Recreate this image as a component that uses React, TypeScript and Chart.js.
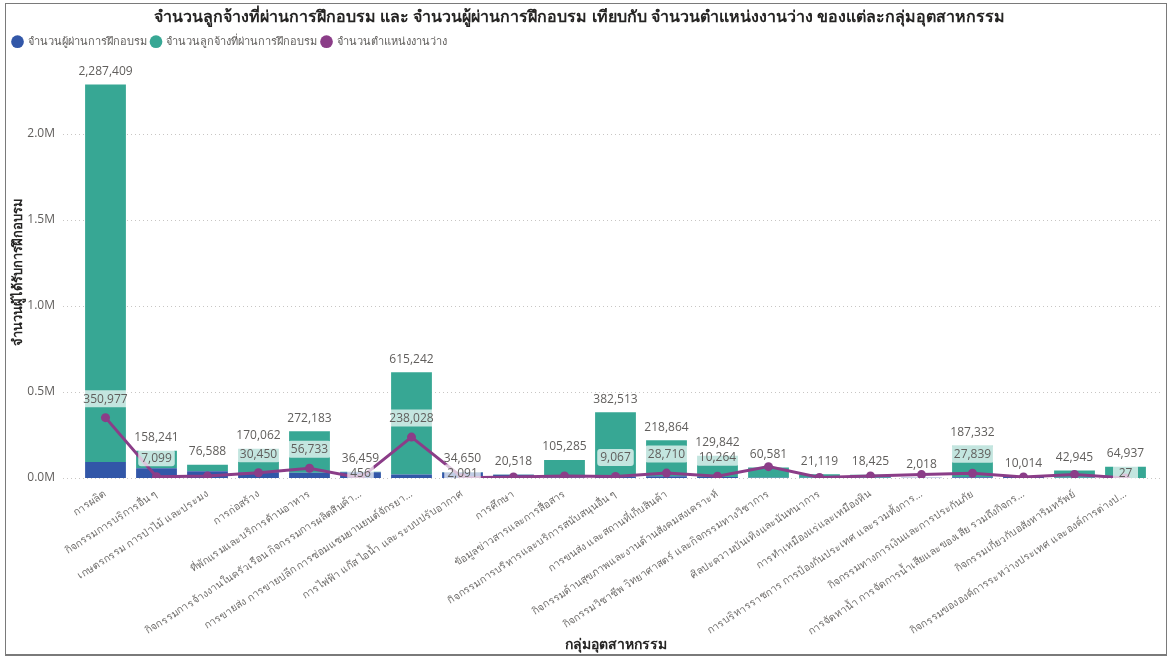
import React, { useEffect, useRef } from 'react';
import { Chart, registerables } from 'chart.js';

Chart.register(...registerables);

const categories = [
  'การผลิต',
  'กิจกรรมการบริการอื่น ๆ',
  'เกษตรกรรม การป่าไม้ และประมง',
  'การก่อสร้าง',
  'ที่พักแรมและบริการด้านอาหาร',
  'กิจกรรมการจ้างงานในครัวเรือน กิจกรรมการผลิตสินค้า...',
  'การขายส่ง การขายปลีก การซ่อมแซมยานยนต์จักรยา...',
  'การไฟฟ้า แก๊ส ไอน้ำ และระบบปรับอากาศ',
  'การศึกษา',
  'ข้อมูลข่าวสารและการสื่อสาร',
  'กิจกรรมการบริหารและบริการสนับสนุนอื่น ๆ',
  'การขนส่ง และสถานที่เก็บสินค้า',
  'กิจกรรมด้านสุขภาพและงานด้านสังคมสงเคราะห์',
  'กิจกรรมวิชาชีพ วิทยาศาสตร์ และกิจกรรมทางวิชาการ',
  'ศิลปะความบันเทิงและนันทนาการ',
  'การทำเหมืองแร่และเหมืองหิน',
  'การบริหารราชการ การป้องกันประเทศ และรวมทั้งการ...',
  'กิจกรรมทางการเงินและการประกันภัย',
  'การจัดหาน้ำ การจัดการน้ำเสียและของเสีย รวมถึงกิจกร...',
  'กิจกรรมเกี่ยวกับอสังหาริมทรัพย์',
  'กิจกรรมขององค์การระหว่างประเทศ และองค์การต่างป...',
];

// จำนวนผู้ผ่านการฝึกอบรม (blue, bottom of stack)
const trainedPersons = [
  93000, 56000, 39000, 33000, 31000, 34000, 21000, 32000, 19000, 3000, 8000,
  10000, 6000, 2000, 2000, 1500, 1500, 4000, 6000, 2000, 500,
];

// จำนวนลูกจ้างที่ผ่านการฝึกอบรม (teal, top of stack)
const trainedEmployees = [
  2194409, 102241, 37588, 137062, 241183, 2459, 594242, 2650, 1518, 102285,
  374513, 208864, 123842, 58581, 19119, 16925, 518, 183332, 4014, 40945, 64437,
];

// จำนวนตำแหน่งงานว่าง (purple line)
const vacancies = [
  350977, 7099, 11000, 30450, 56733, 456, 238028, 2091, 6000, 12000, 9067,
  28710, 10264, 66000, 3000, 12000, 20000, 27839, 6000, 21000, 27,
];

// which vacancy labels are shown and where
const vacancyLabelPlacement = [
  'above', 'above', null, 'above', 'above', 'low', 'above', 'low', null, null,
  'above', 'above', 'above', null, null, null, null, 'above', null, null, 'low',
];

const yTickValues = [0, 500000, 1000000, 1500000, 2000000];

const FONT = "'Segoe UI', 'Open Sans', 'Noto Sans', sans-serif";
const BLUE = '#3257A8';
const TEAL = '#37A794';
const PURPLE = '#8B3D88';
const LABEL_GRAY = '#605E5C';

const fmt = (v: number) => v.toLocaleString('en-US');

const gridPlugin = {
  id: 'extendedGrid',
  beforeDatasetsDraw(chart: any) {
    const { ctx, chartArea, scales } = chart;
    const y = scales.y;
    ctx.save();
    ctx.strokeStyle = '#C8C6C4';
    ctx.lineWidth = 1;
    ctx.setLineDash([1, 3]);
    yTickValues.forEach((v) => {
      const py = Math.round(y.getPixelForValue(v)) + 0.5;
      ctx.beginPath();
      ctx.moveTo(chartArea.left - 17, py);
      ctx.lineTo(chartArea.right + 12, py);
      ctx.stroke();
    });
    ctx.restore();
  },
};

const labelsPlugin = {
  id: 'dataLabels',
  afterDatasetsDraw(chart: any) {
    const ctx = chart.ctx;
    const topMeta = chart.getDatasetMeta(1);
    const lineMeta = chart.getDatasetMeta(2);
    ctx.save();
    ctx.font = `12px ${FONT}`;
    ctx.textAlign = 'center';
    ctx.textBaseline = 'middle';
    categories.forEach((_, i) => {
      const bar = topMeta.data[i];
      const total = trainedPersons[i] + trainedEmployees[i];
      ctx.fillStyle = LABEL_GRAY;
      ctx.fillText(fmt(total), bar.x, bar.y - 13);
    });
    categories.forEach((_, i) => {
      const place = vacancyLabelPlacement[i];
      if (!place) return;
      const pt = lineMeta.data[i];
      const cy = place === 'above' ? pt.y - 19 : pt.y - 5;
      const text = fmt(vacancies[i]);
      const w = Math.max(ctx.measureText(text).width + 6, 25);
      const h = 17;
      ctx.fillStyle = 'rgba(255,255,255,0.7)';
      ctx.beginPath();
      ctx.roundRect(pt.x - w / 2, cy - h / 2, w, h, 3);
      ctx.fill();
      ctx.fillStyle = LABEL_GRAY;
      ctx.fillText(text, pt.x, cy + 0.5);
    });
    ctx.restore();
  },
};

const legendSpacer = {
  id: 'legendSpacer',
  beforeInit(chart: any) {
    const legend = chart.legend;
    if (!legend) return;
    const fit = legend.fit;
    legend.fit = function () {
      fit.call(this);
      this.height += 8;
    };
  },
};

export default function App() {
  const canvasRef = useRef<HTMLCanvasElement | null>(null);

  useEffect(() => {
    document.body.style.margin = '0';
    const canvas = canvasRef.current;
    if (!canvas) return;
    const chart = new Chart(canvas, {
      type: 'bar',
      data: {
        labels: categories,
        datasets: [
          {
            type: 'bar',
            label: 'จำนวนผู้ผ่านการฝึกอบรม',
            data: trainedPersons,
            backgroundColor: BLUE,
            borderWidth: 0,
            stack: 's',
            order: 1,
            barPercentage: 0.8,
            categoryPercentage: 1,
          },
          {
            type: 'bar',
            label: 'จำนวนลูกจ้างที่ผ่านการฝึกอบรม',
            data: trainedEmployees,
            backgroundColor: TEAL,
            borderWidth: 0,
            stack: 's',
            order: 1,
            barPercentage: 0.8,
            categoryPercentage: 1,
          },
          {
            type: 'line',
            label: 'จำนวนตำแหน่งงานว่าง',
            data: vacancies,
            borderColor: PURPLE,
            backgroundColor: PURPLE,
            borderWidth: 3,
            pointRadius: 4.5,
            pointBackgroundColor: PURPLE,
            pointBorderWidth: 0,
            tension: 0,
            order: 0,
          } as any,
        ],
      },
      options: {
        responsive: false,
        animation: false,
        devicePixelRatio: 1,
        layout: { padding: { left: 8, right: 20, top: 4, bottom: 6 } },
        plugins: {
          title: {
            display: true,
            text: 'จำนวนลูกจ้างที่ผ่านการฝึกอบรม และ จำนวนผู้ผ่านการฝึกอบรม เทียบกับ จำนวนตำแหน่งงานว่าง ของแต่ละกลุ่มอุตสาหกรรม',
            color: '#252423',
            font: { family: FONT, size: 16, weight: 'bold' },
            padding: { top: 4, bottom: 4 },
          },
          legend: {
            display: true,
            position: 'top',
            align: 'start',
            labels: {
              usePointStyle: true,
              pointStyle: 'circle',
              boxWidth: 9,
              boxHeight: 9,
              padding: 5,
              color: LABEL_GRAY,
              font: { family: FONT, size: 11 },
              sort: (a: any, b: any) => a.datasetIndex - b.datasetIndex,
            },
          },
          tooltip: { enabled: false },
        },
        scales: {
          x: {
            stacked: true,
            grid: { display: false },
            border: { display: false },
            ticks: {
              autoSkip: false,
              maxRotation: 33,
              minRotation: 33,
              color: '#6f6d6b',
              font: { family: FONT, size: 10.3 },
              padding: 2,
            },
            title: {
              display: true,
              text: 'กลุ่มอุตสาหกรรม',
              color: '#252423',
              font: { family: FONT, size: 14, weight: 'bold' },
              padding: { top: 0, bottom: 0 },
            },
            afterFit: (s: any) => {
              s.height = 659 - 478 - 6;
            },
          },
          y: {
            stacked: true,
            min: 0,
            max: 2400000,
            afterBuildTicks: (s: any) => {
              s.ticks = yTickValues.map((v) => ({ value: v }));
            },
            grid: { display: false },
            border: { display: false },
            ticks: {
              color: LABEL_GRAY,
              font: { family: FONT, size: 12 },
              padding: 17,
              callback: (v: any) => (Number(v) / 1e6).toFixed(1) + 'M',
            },
            title: {
              display: true,
              text: 'จำนวนผู้ได้รับการฝึกอบรม',
              color: '#252423',
              font: { family: FONT, size: 13, weight: 'bold' },
              padding: { top: 2, bottom: 0 },
            },
            afterFit: (s: any) => {
              s.width = 72;
            },
          },
        },
      },
      plugins: [gridPlugin, labelsPlugin, legendSpacer],
    });
    return () => chart.destroy();
  }, []);

  return (
    <div style={{ position: 'fixed', left: 0, top: 0, width: 1171, height: 659, background: '#fff' }}>
      <canvas ref={canvasRef} width={1171} height={659} style={{ width: 1171, height: 659, display: 'block' }} />
      <div
        style={{
          position: 'absolute',
          left: 5,
          top: 3,
          width: 1162,
          height: 653,
          border: '1px solid #7a7a7a',
          borderBottomWidth: 2,
          boxSizing: 'border-box',
          pointerEvents: 'none',
        }}
      />
    </div>
  );
}
